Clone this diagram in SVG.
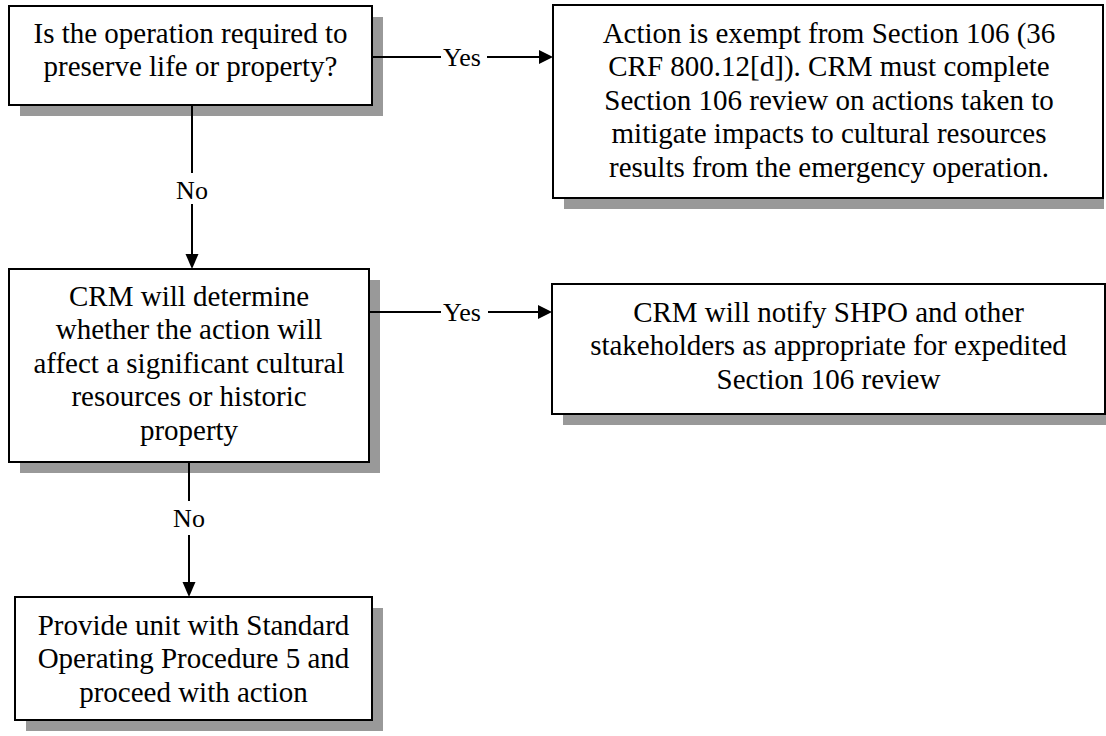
<svg xmlns="http://www.w3.org/2000/svg" width="1106" height="736" viewBox="0 0 1106 736">
<defs>
<style>
.shadow{fill:#999999;stroke:none}
.box{fill:#ffffff;stroke:#000000;stroke-width:2}
.t{font-family:"Liberation Serif","Times New Roman",serif;font-size:29px;fill:#000000;text-anchor:middle}
.lbl{font-family:"Liberation Serif","Times New Roman",serif;font-size:26px;fill:#000000;text-anchor:middle}
.ln{stroke:#000000;stroke-width:2;fill:none}
.ah{fill:#000000;stroke:none}
</style>
</defs>
<rect width="1106" height="736" fill="#ffffff"/>
<g id="node-preserve">
<rect class="shadow" x="20" y="17" width="363" height="99"/>
<rect class="box" x="9" y="6" width="363" height="99"/>
<text class="t" x="190.5" y="43">Is the operation required to</text>
<text class="t" x="190.5" y="76.4">preserve life or property?</text>
</g>
<g id="node-exempt">
<rect class="shadow" x="564" y="16" width="540" height="193"/>
<rect class="box" x="553" y="5" width="550" height="193"/>
<text class="t" x="829" y="43">Action is exempt from Section 106 (36</text>
<text class="t" x="829" y="76.4">CRF 800.12[d]). CRM must complete</text>
<text class="t" x="829" y="109.8">Section 106 review on actions taken to</text>
<text class="t" x="829" y="143.2">mitigate impacts to cultural resources</text>
<text class="t" x="829" y="176.6">results from the emergency operation.</text>
</g>
<g id="node-determine">
<rect class="shadow" x="20" y="280" width="360" height="193"/>
<rect class="box" x="9" y="269" width="360" height="193"/>
<text class="t" x="189" y="306">CRM will determine</text>
<text class="t" x="189" y="339.4">whether the action will</text>
<text class="t" x="189" y="372.8">affect a significant cultural</text>
<text class="t" x="189" y="406.2">resources or historic</text>
<text class="t" x="189" y="439.6">property</text>
</g>
<g id="node-notify">
<rect class="shadow" x="563" y="295" width="553" height="130"/>
<rect class="box" x="552" y="284" width="553" height="130"/>
<text class="t" x="828.5" y="322">CRM will notify SHPO and other</text>
<text class="t" x="828.5" y="355.4">stakeholders as appropriate for expedited</text>
<text class="t" x="828.5" y="388.8">Section 106 review</text>
</g>
<g id="node-sop">
<rect class="shadow" x="26" y="608" width="357" height="123"/>
<rect class="box" x="15" y="597" width="357" height="123"/>
<text class="t" x="193.5" y="635">Provide unit with Standard</text>
<text class="t" x="193.5" y="668.4">Operating Procedure 5 and</text>
<text class="t" x="193.5" y="701.8">proceed with action</text>
</g>
<g id="connectors">
<line class="ln" x1="372" y1="57" x2="441" y2="57"/>
<text class="lbl" x="462" y="66">Yes</text>
<line class="ln" x1="487" y1="57" x2="541" y2="57"/>
<polygon class="ah" points="553,57 539,50 539,64"/>
<line class="ln" x1="192" y1="105" x2="192" y2="173"/>
<text class="lbl" x="192" y="199">No</text>
<line class="ln" x1="192" y1="204" x2="192" y2="256"/>
<polygon class="ah" points="192,269 185.5,254 198.5,254"/>
<line class="ln" x1="369" y1="312" x2="441" y2="312"/>
<text class="lbl" x="462" y="321">Yes</text>
<line class="ln" x1="488" y1="312" x2="540" y2="312"/>
<polygon class="ah" points="552,312 538,305 538,319"/>
<line class="ln" x1="189" y1="462" x2="189" y2="501"/>
<text class="lbl" x="189" y="527">No</text>
<line class="ln" x1="189" y1="535" x2="189" y2="584"/>
<polygon class="ah" points="189,597 182.5,582 195.5,582"/>
</g>
</svg>
